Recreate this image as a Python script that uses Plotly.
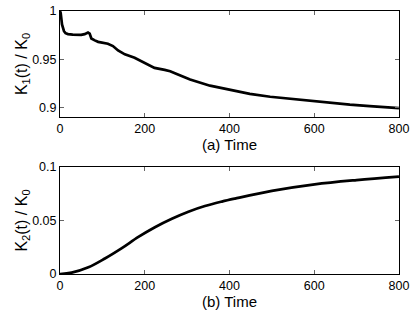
import plotly.graph_objects as go

# Top panel: K1(t)/K0
t1 = [0, 1.6, 4.7, 9.4, 13, 18.9, 30, 42.5, 50, 58, 66, 70, 74, 82, 90, 113, 125, 137, 153, 176, 192, 208, 223, 247, 260, 274, 307, 354, 401, 448, 496, 543, 590, 637, 684, 731, 779, 800]
k1 = [1.0, 0.998, 0.986, 0.979, 0.977, 0.976, 0.9755, 0.975, 0.9752, 0.976, 0.9776, 0.9765, 0.9715, 0.9695, 0.968, 0.966, 0.9636, 0.959, 0.955, 0.9515, 0.948, 0.944, 0.941, 0.9389, 0.9375, 0.935, 0.929, 0.9225, 0.918, 0.914, 0.911, 0.909, 0.9065, 0.9045, 0.9028, 0.9013, 0.900, 0.8993]

# Bottom panel: K2(t)/K0
t2 = [0, 27.5, 67, 106, 146, 185, 224, 264, 303, 342, 382, 413, 500, 601, 700, 800]
k2 = [0.0, 0.0013, 0.0063, 0.0145, 0.0242, 0.0346, 0.0437, 0.0516, 0.0582, 0.0635, 0.0677, 0.0705, 0.0777, 0.0838, 0.0878, 0.091]

xticks = [0, 200, 400, 600, 800]
y1ticks = [0.9, 0.95, 1.0]
y1text = ["0.9", "0.95", "1"]
y2ticks = [0.0, 0.05, 0.1]
y2text = ["0", "0.05", "0.1"]

FAM = "Liberation Sans, Arial, sans-serif"
tickfont = dict(family=FAM, size=12.5, color="black")
xtitlefont = dict(family=FAM, size=15, color="black")
ytitlefont = dict(family=FAM, size=16, color="black")

fig = go.Figure()
fig.add_trace(go.Scatter(x=t1, y=k1, mode="lines", line=dict(color="black", width=2.7),
                         xaxis="x", yaxis="y", showlegend=False, hoverinfo="skip"))
fig.add_trace(go.Scatter(x=t2, y=k2, mode="lines", line=dict(color="black", width=2.7, shape="spline"),
                         xaxis="x2", yaxis="y2", showlegend=False, hoverinfo="skip"))

axcommon = dict(showgrid=False, zeroline=False, showline=True, linecolor="black", linewidth=1,
                mirror="ticks", ticks="inside", ticklen=4, tickcolor="#666", tickfont=tickfont,
                automargin=False)

fig.update_layout(
    width=415, height=311,
    margin=dict(l=0, r=0, t=0, b=0),
    paper_bgcolor="white", plot_bgcolor="white",
    font=tickfont,
    xaxis=dict(domain=[0.1446, 0.9614], range=[0, 800], tickvals=xticks, anchor="y",
               title=dict(text="(a) Time", font=xtitlefont, standoff=0), **axcommon),
    yaxis=dict(domain=[0.6238, 0.9646], range=[0.89, 1.0], tickvals=y1ticks, ticktext=y1text, anchor="x",
               title=dict(text="K<sub>1</sub>(t) / K<sub>0</sub>", font=ytitlefont, standoff=0), **axcommon),
    xaxis2=dict(domain=[0.1446, 0.9614], range=[0, 800], tickvals=xticks, anchor="y2",
                title=dict(text="(b) Time", font=xtitlefont, standoff=0), **axcommon),
    yaxis2=dict(domain=[0.1190, 0.4630], range=[0, 0.1], tickvals=y2ticks, ticktext=y2text, anchor="x2",
                title=dict(text="K<sub>2</sub>(t) / K<sub>0</sub>", font=ytitlefont, standoff=0), **axcommon),
)

fig.write_html("out.html", config={"displayModeBar": False},
               post_script="document.body.style.margin='0';document.body.style.padding='0';")
